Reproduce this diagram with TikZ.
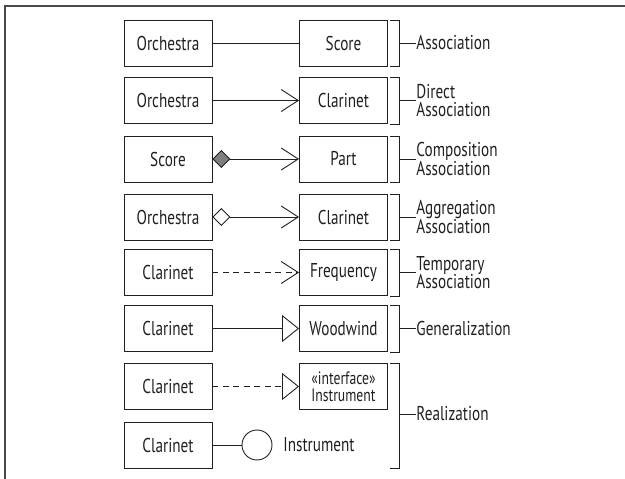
\documentclass[tikz,border=0pt]{standalone}
\usepackage{fontspec}
\setmainfont{PT Sans}[FakeStretch=0.76]
\usepackage{xcolor}
\usetikzlibrary{arrows.meta}
\definecolor{umlink}{HTML}{231F20}
\definecolor{umlgray}{HTML}{7F7F7F}
\definecolor{framegray}{HTML}{4A4A4A}

\begin{document}
\begin{tikzpicture}[x=1pt,y=-1pt,
    line width=0.9pt, draw=umlink, text=umlink,
    cls/.style={draw=umlink, line width=0.9pt, minimum width=88pt, minimum height=46pt,
      inner sep=0pt, font=\fontsize{20}{18.5}\selectfont},
    kind/.style={anchor=west, inner sep=0pt, align=left, font=\fontsize{20}{18.5}\selectfont},
    barb/.style={-{Straight Barb[length=17pt,width=22pt,line width=0.9pt]}},
    tri/.style={-{Triangle[open,length=17pt,width=27pt,line width=0.9pt]}},
    dashline/.style={dash pattern=on 6pt off 4.5pt}]
  \useasboundingbox (0,0) rectangle (625,479);
  \draw[framegray, line width=2pt] (5,479) -- (5,6) -- (625,6);

  % left column
  \node[cls] (l1) at (168,43) {Orchestra};
  \node[cls] (l2) at (168,100.5) {Orchestra};
  \node[cls] (l3) at (168,159) {Score};
  \node[cls] (l4) at (168,217) {Orchestra};
  \node[cls] (l5) at (168,272.5) {Clarinet};
  \node[cls] (l6) at (168,328.5) {Clarinet};
  \node[cls] (l7) at (168,386.5) {Clarinet};
  \node[cls] (l8) at (168,445) {Clarinet};

  % right column
  \node[cls] (r1) at (343.5,43) {Score};
  \node[cls] (r2) at (343.5,100.5) {Clarinet};
  \node[cls] (r3) at (343.5,159) {Part};
  \node[cls] (r4) at (343.5,217) {Clarinet};
  \node[cls] (r5) at (343.5,272.5) {Frequency};
  \node[cls] (r6) at (343.5,328.5) {Woodwind};
  \node[cls, align=center, font=\fontsize{18}{17.5}\selectfont] (r7) at (343.5,386.5) {«interface»\\Instrument};
  \node[circle, draw=umlink, line width=0.9pt, minimum size=30pt, inner sep=0pt] (ifc) at (257,445) {};
  \node[kind] (r8) at (283,445) {Instrument};

  % relations
  \draw (l1) -- (r1);
  \draw[barb] (l2) -- (r2);
  \draw[{Diamond[length=18pt,width=18pt,fill=umlgray,line width=0.9pt]}-{Straight Barb[length=17pt,width=22pt,line width=0.9pt]}] (l3) -- (r3);
  \draw[{Diamond[open,length=18pt,width=18pt,line width=0.9pt]}-{Straight Barb[length=17pt,width=22pt,line width=0.9pt]}] (l4) -- (r4);
  \draw[barb, dashline] (l5) -- (r5);
  \draw[tri] (l6) -- (r6);
  \draw[tri, dashline] (l7) -- (r7);
  \draw (l8) -- (ifc);

  % names of the relations
  \node[kind] (k1) at (416,43) {Association};
  \node[kind] (k2) at (416,100.5) {Direct\\Association};
  \node[kind] (k3) at (416,159) {Composition\\Association};
  \node[kind] (k4) at (416,217) {Aggregation\\Association};
  \node[kind] (k5) at (416,272.5) {Temporary\\Association};
  \node[kind] (k6) at (416,328.5) {Generalization};
  \node[kind] (k7) at (416,414) {Realization};

  % brackets
  \draw (390,20) -| (399,66) -- (390,66);
  \draw (390,77) -| (399,124) -- (390,124);
  \draw (390,136) -| (399,182) -- (390,182);
  \draw (390,194) -| (399,240) -- (390,240);
  \draw (390,249) -| (399,296) -- (390,296);
  \draw (390,305) -| (399,352) -- (390,352);
  \draw (390,363) -| (399,468) -- (390,468);
  \draw (399,43) -- (k1.west);
  \draw (399,100.5) -- (k2.west);
  \draw (399,159) -- (k3.west);
  \draw (399,217) -- (k4.west);
  \draw (399,272.5) -- (k5.west);
  \draw (399,328.5) -- (k6.west);
  \draw (399,414) -- (k7.west);
\end{tikzpicture}
\end{document}
